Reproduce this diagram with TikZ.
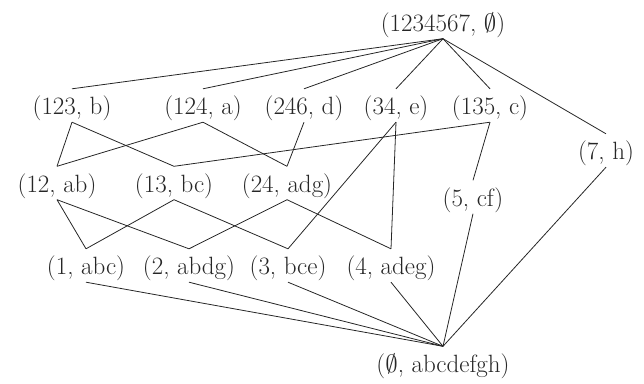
\documentclass[tikz,border=0pt]{standalone}
\usepackage{fontspec}
\begin{document}
\begin{tikzpicture}[x=1pt,y=-1pt,
  lat/.style={font=\fontsize{25}{30}\selectfont, text=black!85, inner sep=0pt,
              text height=25.75pt, text depth=7.25pt},
  edge/.style={draw=black!85, line width=0.8pt}]
\useasboundingbox (0,0) rectangle (644,383);
% nodes
\node[lat] (top)  at (443,22)    {(1234567, $\emptyset$)};
\node[lat] (n123) at (72,105.5)  {(123, b)};
\node[lat] (n124) at (203,105.5) {(124, a)};
\node[lat] (n246) at (304,105.5) {(246, d)};
\node[lat] (n34)  at (396,105.5) {(34, e)};
\node[lat] (n135) at (490,105.5) {(135, c)};
\node[lat] (n7)   at (606,150.5) {(7, h)};
\node[lat] (n12)  at (57,183)    {(12, ab)};
\node[lat] (n13)  at (174,183)   {(13, bc)};
\node[lat] (n24)  at (287,183)   {(24, adg)};
\node[lat] (n5)   at (473,197)   {(5, cf)};
\node[lat] (n1)   at (86,265.5)  {(1, abc)};
\node[lat] (n2)   at (189,265.5) {(2, abdg)};
\node[lat] (n3)   at (288,265.5) {(3, bce)};
\node[lat] (n4)   at (391,265.5) {(4, adeg)};
\node[lat] (bot)  at (443,363)   {($\emptyset$, abcdefgh)};
% edges from top
\foreach \n in {n123,n124,n246,n34,n135,n7}
  \draw[edge] (top.south) -- (\n.north);
% second level
\draw[edge] (n123.south) -- (n12.north);
\draw[edge] (n123.south) -- (n13.north);
\draw[edge] (n124.south) -- (n12.north);
\draw[edge] (n124.south) -- (n24.north);
\draw[edge] (n246.south) -- (n24.north);
\draw[edge] (n34.south) -- (n3.north);
\draw[edge] (n34.south) -- (n4.north);
\draw[edge] (n135.south) -- (n13.north);
\draw[edge] (n135.south) -- (n5.north);
% third level
\draw[edge] (n12.south) -- (n1.north);
\draw[edge] (n12.south) -- (n2.north);
\draw[edge] (n13.south) -- (n1.north);
\draw[edge] (n13.south) -- (n3.north);
\draw[edge] (n24.south) -- (n2.north);
\draw[edge] (n24.south) -- (n4.north);
% to bottom
\foreach \n in {n1,n2,n3,n4,n5,n7}
  \draw[edge] (\n.south) -- (bot.north);
\end{tikzpicture}
\end{document}
